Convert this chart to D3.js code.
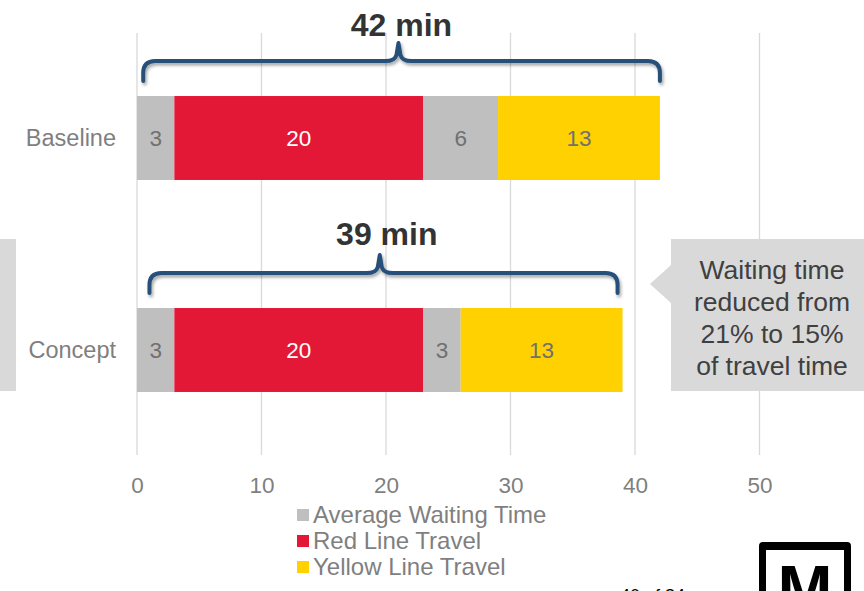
<!DOCTYPE html>
<html>
<head>
<meta charset="utf-8">
<script src="https://cdn.jsdelivr.net/npm/d3@7"></script>
<style>
  html, body { margin: 0; padding: 0; background: #fff; }
  svg { display: block; font-family: "Liberation Sans", Arial, sans-serif; }
</style>
</head>
<body>
<svg id="chart" width="864" height="591"></svg>
<script>
// Travel time per scenario, minutes, stacked left to right
const categories = ["Baseline", "Concept"];
const waitStart  = [3, 3];
const redLine    = [20, 20];
const waitMid    = [6, 3];
const yellowLine = [13, 13];
const segmentNames = ["Average Waiting Time", "Red Line Travel", "Average Waiting Time", "Yellow Line Travel"];
const xTicks = [0, 10, 20, 30, 40, 50];
const legendItems = ["Average Waiting Time", "Red Line Travel", "Yellow Line Travel"];
const calloutLines = ["Waiting time", "reduced from", "21% to 15%", "of travel time"];

const colors = {
  "Average Waiting Time": "#bfbfbf",
  "Red Line Travel": "#e31837",
  "Yellow Line Travel": "#ffd100"
};
const labelColors = {
  "Average Waiting Time": "#707070",
  "Red Line Travel": "#ffffff",
  "Yellow Line Travel": "#707070"
};

const svg = d3.select("#chart");

const x = d3.scaleLinear().domain([0, 60]).range([137, 884]);
const y = d3.scaleBand().domain(categories).range([32, 456])
  .paddingInner(0.604).paddingOuter(0.302);

// shadow used under the braces
const defs = svg.append("defs");
const f = defs.append("filter").attr("id", "shadow")
  .attr("x", "-10%").attr("y", "-50%").attr("width", "120%").attr("height", "200%");
f.append("feDropShadow").attr("dx", 1.5).attr("dy", 2.5).attr("stdDeviation", 1.6)
  .attr("flood-color", "#000").attr("flood-opacity", 0.35);

// left edge panel and gridlines
svg.append("rect").attr("x", 0).attr("y", 239).attr("width", 16).attr("height", 152).attr("fill", "#d9d9d9");

svg.append("g").selectAll("line").data(xTicks).join("line")
  .attr("x1", d => x(d)).attr("x2", d => x(d))
  .attr("y1", 33).attr("y2", 455)
  .attr("stroke", "#d9d9d9").attr("stroke-width", 1.3);

// axis tick labels
const xAxis = d3.axisBottom(x).tickValues(xTicks).tickSize(0).tickPadding(0);
const gx = svg.append("g").attr("transform", "translate(0,485)").call(xAxis);
gx.select(".domain").remove();
gx.selectAll("text").attr("font-size", 22.5).attr("fill", "#7f7f7f")
  .attr("font-family", "'Liberation Sans', Arial, sans-serif").attr("dy", "0.35em");

// stacked segments
const rows = categories.map((c, i) => {
  const vals = [waitStart[i], redLine[i], waitMid[i], yellowLine[i]];
  let acc = 0;
  const segs = vals.map((v, j) => {
    const s = { cat: c, name: segmentNames[j], x0: acc, x1: acc + v, v };
    acc += v;
    return s;
  });
  return { cat: c, total: acc, segs };
});

const barG = svg.append("g");
rows.forEach(r => {
  barG.selectAll(null).data(r.segs).join("rect")
    .attr("x", d => x(d.x0)).attr("width", d => x(d.x1) - x(d.x0))
    .attr("y", y(r.cat)).attr("height", y.bandwidth())
    .attr("fill", d => colors[d.name]);
  barG.selectAll(null).data(r.segs).join("text")
    .attr("x", d => (x(d.x0) + x(d.x1)) / 2)
    .attr("y", y(r.cat) + y.bandwidth() / 2)
    .attr("dy", "0.35em").attr("text-anchor", "middle")
    .attr("font-size", 22.5).attr("fill", d => labelColors[d.name])
    .text(d => d.v);
});

// category labels
svg.append("g").selectAll("text").data(categories).join("text")
  .attr("x", 116).attr("y", d => y(d) + y.bandwidth() / 2)
  .attr("dy", "0.35em").attr("text-anchor", "end")
  .attr("font-size", 23.5).attr("fill", "#7f7f7f").text(d => d);

// curly brace over each bar with the total
function bracePath(xa, xb, xm, yEnd, yLine, yTip) {
  const r = 12, t = 9;
  return `M${xa},${yEnd} L${xa},${yLine + r} Q${xa},${yLine} ${xa + r},${yLine}` +
    ` L${xm - t - 4},${yLine} Q${xm - 4},${yLine} ${xm - 2},${yLine - 6} L${xm},${yTip}` +
    ` L${xm + 2},${yLine - 6} Q${xm + 4},${yLine} ${xm + t + 4},${yLine}` +
    ` L${xb - r},${yLine} Q${xb},${yLine} ${xb},${yLine + r} L${xb},${yEnd}`;
}
const braceEnds = { Baseline: [0.5, 42], Concept: [1, 38.6] };
const labelShift = { Baseline: [3, -60], Concept: [7, -63] };
rows.forEach(r => {
  const top = y(r.cat);
  const xm = x(r.total / 2);
  const [a, b] = braceEnds[r.cat];
  svg.append("path")
    .attr("d", bracePath(x(a), x(b), xm, top - 15, top - 35, top - 53))
    .attr("fill", "none").attr("stroke", "#27507a").attr("stroke-width", 4)
    .attr("stroke-linejoin", "round").attr("stroke-linecap", "round")
    .attr("filter", "url(#shadow)");
  svg.append("text")
    .attr("x", xm + labelShift[r.cat][0]).attr("y", top + labelShift[r.cat][1])
    .attr("text-anchor", "middle")
    .attr("font-family", "'Liberation Sans Narrow', 'Arial Narrow', Arial, sans-serif")
    .attr("font-weight", "bold").attr("font-size", 32).attr("fill", "#333333")
    .text(`${r.total} min`);
});

// callout box
const cb = svg.append("g");
cb.append("path")
  .attr("d", "M671,239 L864,239 L864,391 L671,391 L671,303 L650,284 L671,265 Z")
  .attr("fill", "#d9d9d9");
cb.selectAll("text").data(calloutLines).join("text")
  .attr("x", 772).attr("y", (d, i) => 270 + i * 32)
  .attr("dy", "0.35em").attr("text-anchor", "middle")
  .attr("font-size", 26.5).attr("fill", "#404040").text(d => d);

// legend
const lg = svg.append("g").selectAll("g").data(legendItems).join("g")
  .attr("transform", (d, i) => `translate(297,${515 + i * 26})`);
lg.append("rect").attr("x", 0).attr("y", -6).attr("width", 12).attr("height", 12)
  .attr("fill", d => colors[d]);
lg.append("text").attr("x", 16).attr("dy", "0.35em")
  .attr("font-size", 24).attr("fill", "#7f7f7f").text(d => d);

// page footer: page number and logo
svg.append("text").attr("x", 620).attr("y", 602).attr("font-size", 18).attr("fill", "#000").text("40 of 84");
svg.append("rect").attr("x", 759).attr("y", 542).attr("width", 92).attr("height", 80).attr("rx", 4).attr("fill", "#000");
svg.append("rect").attr("x", 766).attr("y", 550).attr("width", 78).attr("height", 70).attr("fill", "#fff");
svg.append("text").attr("x", 805).attr("y", 612).attr("text-anchor", "middle")
  .attr("font-weight", "bold").attr("font-size", 66).attr("fill", "#000").text("M");
</script>
</body>
</html>
